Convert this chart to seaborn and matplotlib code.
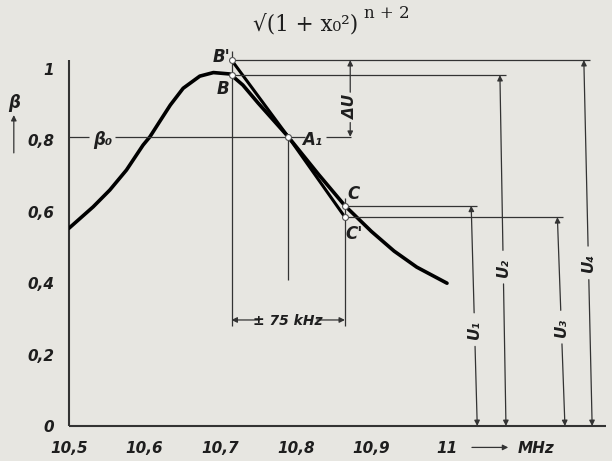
import numpy as np
import pandas as pd
import matplotlib
matplotlib.use("Agg")
import matplotlib.pyplot as plt
import seaborn as sns

# resonance curve (MHz, beta)
freq = [10.5, 10.532, 10.554, 10.576, 10.598, 10.607, 10.62, 10.634, 10.651,
        10.673, 10.691, 10.713, 10.73, 10.75, 10.79, 10.83, 10.865,
        10.9, 10.93, 10.96, 11.0]
beta = [0.554, 0.614, 0.661, 0.717, 0.787, 0.81, 0.853, 0.899, 0.946,
        0.98, 0.99, 0.986, 0.955, 0.905, 0.81, 0.705, 0.617,
        0.545, 0.49, 0.445, 0.40]

# tangent through A1 (B' - A1 - C')
tan_freq = [10.715, 10.79, 10.865]
tan_beta = [1.025, 0.81, 0.585]

# marked points
pt_names = ["B'", "B", "A₁", "C", "C'"]
pt_freq = [10.715, 10.715, 10.79, 10.865, 10.865]
pt_beta = [1.025, 0.983, 0.81, 0.617, 0.585]

# voltage arrows U1..U4
u_names = ["U₁", "U₂", "U₃", "U₄"]
u_from = [10.865, 10.715, 10.865, 10.715]
u_level = [0.617, 0.983, 0.585, 1.025]
u_top = [11.032, 11.070, 11.146, 11.181]
u_bot = [11.040, 11.078, 11.156, 11.192]
u_label = [0.27, 0.445, 0.277, 0.457]

xticks = [10.5, 10.6, 10.7, 10.8, 10.9, 11.0]
xlabels = ["10,5", "10,6", "10,7", "10,8", "10,9", "11"]
yticks = [0, 0.2, 0.4, 0.6, 0.8, 1.0]
ylabels = ["0", "0,2", "0,4", "0,6", "0,8", "1"]

beta0 = 0.81
paper = "#e7e6e1"
ink = "#1e1e1e"
thin = "#333333"

sns.set_theme(style="white")
plt.rcParams["font.family"] = ["Liberation Sans Narrow", "DejaVu Sans"]
plt.rcParams["font.style"] = "italic"
plt.rcParams["font.weight"] = "bold"
plt.rcParams["figure.facecolor"] = paper
plt.rcParams["axes.facecolor"] = paper

fig = plt.figure(figsize=(6.12, 4.61), dpi=100)
ax = fig.add_axes([69 / 612, 35 / 461, 543 / 612, 392.7 / 461])
ax.set_xlim(10.5, 10.5 + 543 / 756)
ax.set_ylim(0, 1.1)
for s in ax.spines.values():
    s.set_visible(False)


def arrow(x0, y0, x1, y1):
    ax.annotate("", xy=(x1, y1), xytext=(x0, y0), annotation_clip=False,
                arrowprops=dict(arrowstyle="-|>", color=thin, lw=0.9,
                                mutation_scale=8, shrinkA=0, shrinkB=0))


def seg(xs, ys, lw=0.9):
    ax.plot(xs, ys, color=thin, lw=lw, clip_on=False, solid_capstyle="butt")


# axes lines
seg([10.5, 11.21], [0, 0], lw=1.5)
seg([10.5, 10.5], [0, 1.025], lw=1.5)

# curve and tangent
curve = pd.DataFrame({"f": freq, "b": beta})
tang = pd.DataFrame({"f": tan_freq, "b": tan_beta})
sns.lineplot(data=curve, x="f", y="b", ax=ax, color="black", lw=2.6, sort=False)
sns.lineplot(data=tang, x="f", y="b", ax=ax, color="black", lw=2.2, sort=False)

# beta0 line
seg([10.5, 10.526], [beta0, beta0])
seg([10.561, 10.812], [beta0, beta0])
seg([10.84, 10.873], [beta0, beta0])
ax.text(10.544, 0.80, "β₀", ha="center", va="center", fontsize=12, color=ink)

# vertical guides
seg([10.715, 10.715], [1.05, 0.28])
seg([10.865, 10.865], [0.64, 0.28])
seg([10.79, 10.79], [0.81, 0.41])

# horizontal levels and U arrows
for name, f0, lv, xt, xb, lb in zip(u_names, u_from, u_level, u_top, u_bot, u_label):
    seg([f0, xt + 0.008], [lv, lv])
    xpos = lambda b: xb + (xt - xb) * b / lv
    arrow(xpos(lb + 0.047), lb + 0.047, xt, lv)
    arrow(xpos(lb - 0.047), lb - 0.047, xb, 0)
    ax.text(xpos(lb), lb, name, rotation=90, ha="center", va="center",
            fontsize=11, color=ink)

# delta U
arrow(10.872, 0.935, 10.872, 1.025)
arrow(10.872, 0.85, 10.872, 0.81)
ax.text(10.872, 0.893, "ΔU", rotation=90, ha="center", va="center",
        fontsize=11, color=ink)

# +-75 kHz dimension
arrow(10.752, 0.297, 10.715, 0.297)
arrow(10.828, 0.297, 10.865, 0.297)
ax.text(10.79, 0.293, "± 75 kHz", ha="center", va="center", fontsize=10, color=ink)

# points and labels
pts = pd.DataFrame({"f": pt_freq, "b": pt_beta})
sns.scatterplot(data=pts, x="f", y="b", ax=ax, marker="o", s=18, color="white",
                edgecolor="#555555", linewidth=0.8, zorder=5, clip_on=False)
lab_pos = [(10.702, 1.034), (10.704, 0.944), (10.821, 0.80), (10.877, 0.65), (10.877, 0.538)]
for name, (lx, ly) in zip(pt_names, lab_pos):
    ax.text(lx, ly, name, ha="center", va="center", fontsize=12, color=ink)

# axis titles
ax.text(10.427, 0.905, "β", ha="center", va="center", fontsize=12, color=ink, clip_on=False)
arrow(10.427, 0.765, 10.427, 0.871)
arrow(11.033, -0.06, 11.081, -0.06)
ax.text(11.118, -0.064, "MHz", ha="center", va="center", fontsize=11, color=ink, clip_on=False)

ax.set_xticks(xticks)
ax.set_xticklabels(xlabels)
ax.set_yticks(yticks)
ax.set_yticklabels(ylabels)
ax.tick_params(axis="both", direction="inout", length=7, width=1, color=thin,
               labelsize=11, labelcolor=ink, pad=7)
ax.set_xlabel("")
ax.set_ylabel("")

# formula fragment at the top of the page (upright serif)
serif = ["DejaVu Serif"]
fig.text(253 / 612, 1 - 24 / 461, "√(1 + x₀²)", ha="left", va="center",
         fontsize=15.5, color=ink, family=serif, fontstyle="normal", fontweight="normal")
fig.text(364 / 612, 1 - 13 / 461, "n + 2", ha="left", va="center",
         fontsize=12, color=ink, family=serif, fontstyle="normal", fontweight="normal")

fig.savefig("out.png", dpi=100, facecolor=paper)
